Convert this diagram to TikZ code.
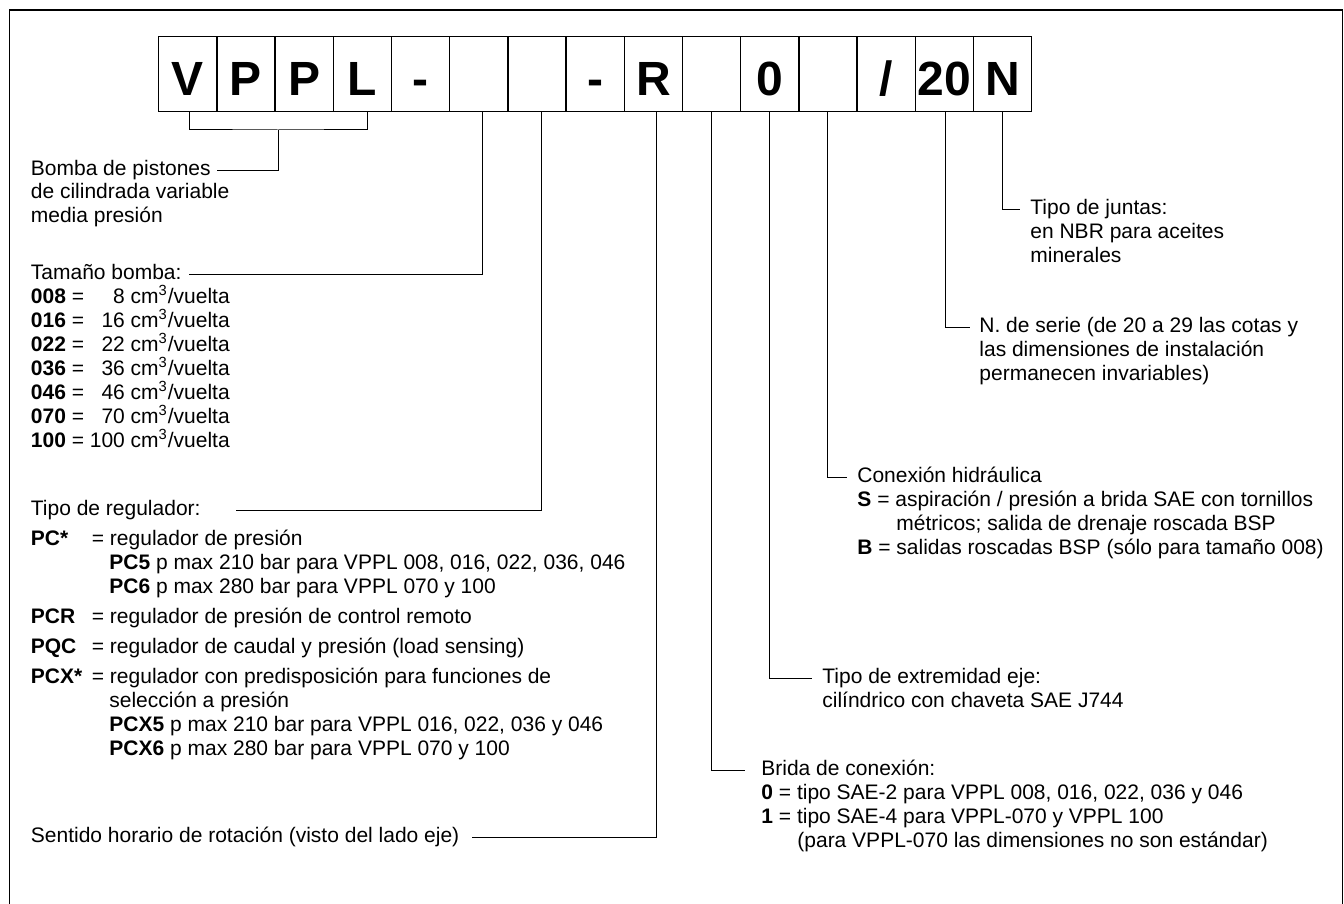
\documentclass[tikz,border=0pt]{standalone}
\usepackage{fontspec}
\setmainfont{Liberation Sans}
\usetikzlibrary{positioning}

\tikzset{
  codebox/.style={draw, line width=0.65pt, minimum width=29.1pt, minimum height=37.35pt,
    inner sep=0pt, text height=25pt, text depth=3pt,
    font=\fontsize{24}{24}\selectfont\bfseries, anchor=north west},
  txt/.style={anchor=west, inner sep=0pt, text height=7.6pt, text depth=2.2pt,
    font=\fontsize{10.5}{12}\selectfont},
  lead/.style={line width=0.5pt},
}

\newcommand{\cc}[2]{\textbf{#1} = \makebox[17.5pt][r]{#2} cm\textsuperscript{3}/vuelta}

\begin{document}
\begin{tikzpicture}[x=0.5pt,y=-0.5pt]
\useasboundingbox (0,0) rectangle (1344,904);
% frame
\draw[line width=0.75pt] (9.5,904) -- (9.5,10) -- (1342.5,10) -- (1342.5,904);

% code boxes
\foreach \lab [count=\i from 0] in {V,P,P,L,-,{},{},-,R,{},0,{},/,20,N}
  \node[codebox] (b\i) at ({158+58.2*\i},36) {\lab};

% left column
\node[txt] (bomba1) at (30.5,170) {Bomba de pistones};
\node[txt] (bomba2) at (30.5,193.5) {de cilindrada variable};
\node[txt] (bomba3) at (30.5,217) {media presión};
\node[txt] (tam) at (30.5,274.5) {Tamaño bomba:};
\foreach \c/\v [count=\k from 0] in {008/8,016/16,022/22,036/36,046/46,070/70,100/100}
  \node[txt] (s\k) at (30.5,{298.3+23.9*\k}) {\cc{\c}{\v}};
\node[txt] (reg) at (30.5,510.5) {Tipo de regulador:};
\node[txt] (pc) at (30.5,540) {\textbf{PC*}};
\node[txt] (pct) at (91.5,540) {= regulador de presión};
\node[txt] (pc5) at (109,564) {\textbf{PC5} p max 210 bar para VPPL 008, 016, 022, 036, 046};
\node[txt] (pc6) at (109,588) {\textbf{PC6} p max 280 bar para VPPL 070 y 100};
\node[txt] (pcr) at (30.5,618) {\textbf{PCR}};
\node[txt] (pcrt) at (91.5,618) {= regulador de presión de control remoto};
\node[txt] (pqc) at (30.5,648) {\textbf{PQC}};
\node[txt] (pqct) at (91.5,648) {= regulador de caudal y presión (load sensing)};
\node[txt] (pcx) at (30.5,678) {\textbf{PCX*}};
\node[txt] (pcxt) at (91.5,678) {= regulador con predisposición para funciones de};
\node[txt] (sel) at (109,702) {selección a presión};
\node[txt] (pcx5) at (109,726) {\textbf{PCX5} p max 210 bar para VPPL 016, 022, 036 y 046};
\node[txt] (pcx6) at (109,750) {\textbf{PCX6} p max 280 bar para VPPL 070 y 100};
\node[txt] (sent) at (30.5,837) {Sentido horario de rotación (visto del lado eje)};

% right column
\node[txt] (junt1) at (1030,209) {Tipo de juntas:};
\node[txt] (junt2) at (1030,233) {en NBR para aceites};
\node[txt] (junt3) at (1030,257) {minerales};
\node[txt] (serie1) at (979,327) {N. de serie (de 20 a 29 las cotas y};
\node[txt] (serie2) at (979,351) {las dimensiones de instalación};
\node[txt] (serie3) at (979,375) {permanecen invariables)};
\node[txt] (con1) at (857,477) {Conexión hidráulica};
\node[txt] (con2) at (857,501) {\textbf{S} = aspiración / presión a brida SAE con tornillos};
\node[txt] (con3) at (896,525) {métricos; salida de drenaje roscada BSP};
\node[txt] (con4) at (857,549) {\textbf{B} = salidas roscadas BSP (sólo para tamaño 008)};
\node[txt] (ext1) at (822,678) {Tipo de extremidad eje:};
\node[txt] (ext2) at (822,702) {cilíndrico con chaveta SAE J744};
\node[txt] (brida1) at (761,770) {Brida de conexión:};
\node[txt] (brida2) at (761,794) {\textbf{0} = tipo SAE-2 para VPPL 008, 016, 022, 036 y 046};
\node[txt] (brida3) at (761,818) {\textbf{1} = tipo SAE-4 para VPPL-070 y VPPL 100};
\node[txt] (brida4) at (797,842) {(para VPPL-070 las dimensiones no son estándar)};

% leaders
\coordinate (brk) at (278,130);
\draw[lead] ([xshift=1pt]b0.south) |- (brk) -| ([xshift=2.5pt]b3.south);
\draw[lead] (brk) |- ([xshift=3pt]bomba1.east);
\draw[lead] ([xshift=1.75pt]b5.south) |- ([xshift=3.5pt]tam.east);
\draw[lead] ([xshift=2.35pt]b6.south) |- ([xshift=17.5pt]reg.east);
\draw[lead] ([xshift=1.65pt]b8.south) |- ([xshift=6pt]sent.east);
\draw[lead] (b9.south) |- ([xshift=-8pt]brida1.west);
\draw[lead] (b10.south) |- ([xshift=-5pt]ext1.west);
\draw[lead] (b11.south) |- ([xshift=-5pt]con1.west);
\draw[lead] ([xshift=0.8pt]b13.south) |- ([xshift=-4.5pt]serie1.west);
\draw[lead] (b14.south) |- ([xshift=-5pt]junt1.west);
\end{tikzpicture}
\end{document}
